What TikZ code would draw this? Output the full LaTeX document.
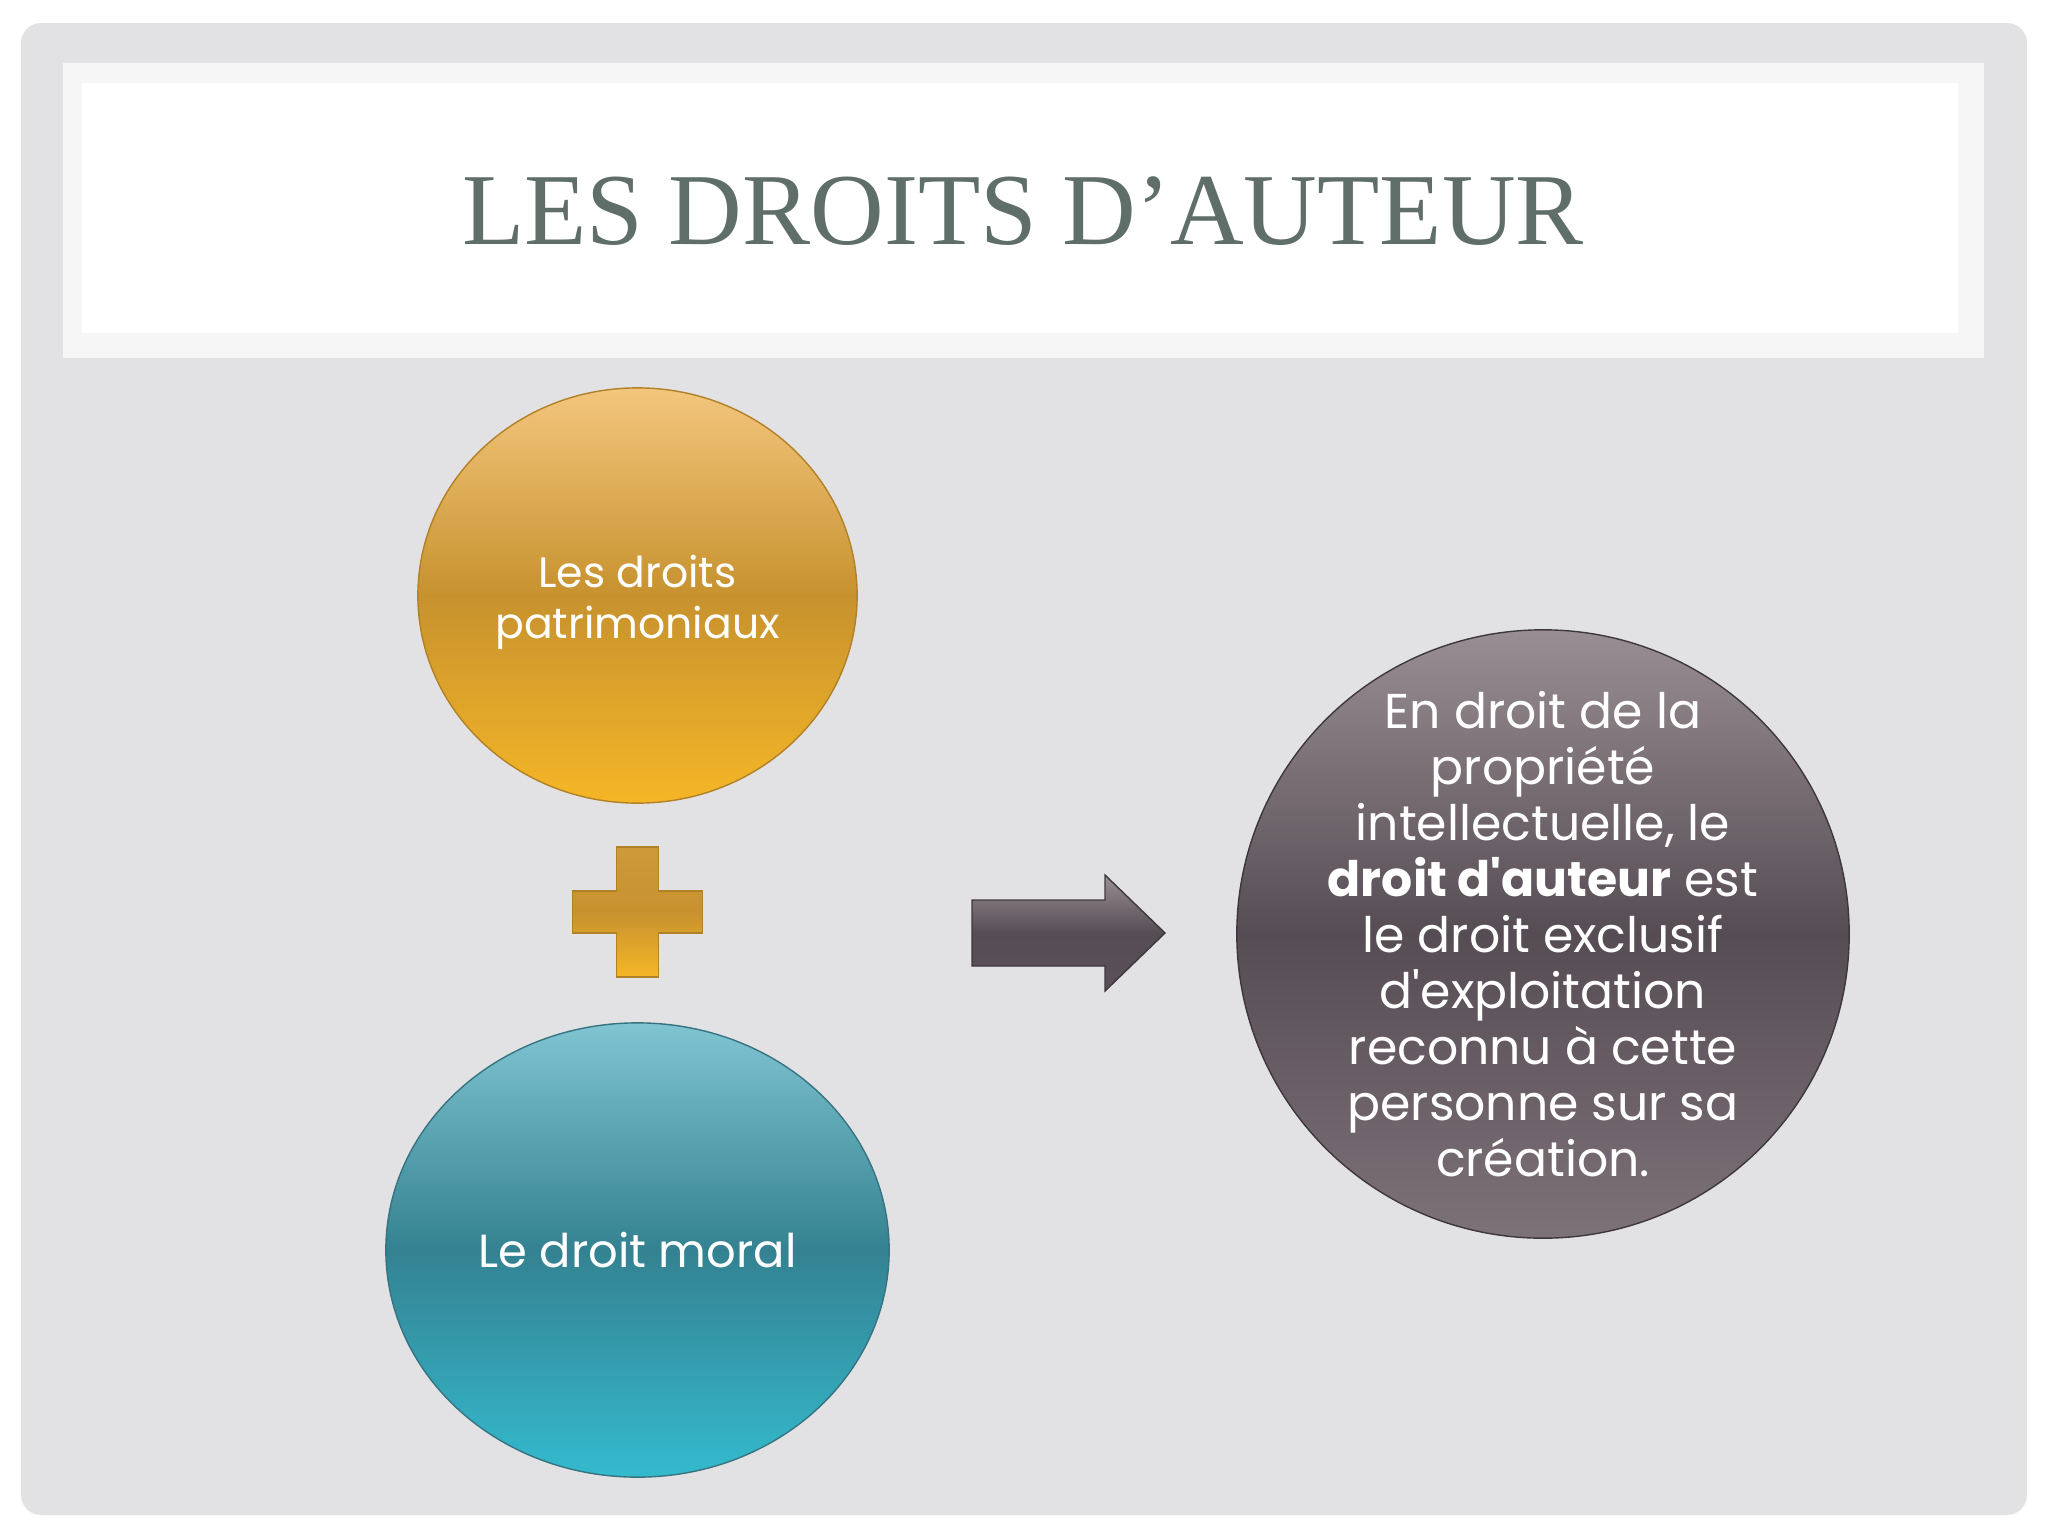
\documentclass[tikz,border=0pt]{standalone}
\usepackage{fontspec}
\usetikzlibrary{shapes.geometric}
\newfontfamily\titlefont{Liberation Serif}
\newfontfamily\bodyfont{Poppins}
\definecolor{slidegray}{RGB}{226,226,228}
\definecolor{bandgray}{RGB}{246,246,246}
\definecolor{titlegreen}{RGB}{95,110,105}
\definecolor{goldtop}{RGB}{243,198,125}
\definecolor{goldmid}{RGB}{199,146,46}
\definecolor{goldbot}{RGB}{245,182,38}
\definecolor{goldline}{RGB}{178,128,38}
\definecolor{tealtop}{RGB}{128,196,210}
\definecolor{tealmid}{RGB}{52,130,145}
\definecolor{tealbot}{RGB}{52,186,206}
\definecolor{tealline}{RGB}{55,115,128}
\definecolor{plumtop}{RGB}{152,142,147}
\definecolor{plummid}{RGB}{86,76,83}
\definecolor{plumbot}{RGB}{125,114,120}
\definecolor{plumline}{RGB}{62,56,60}
\begin{document}
\begin{tikzpicture}[x=0.01cm, y=-0.01cm,
goldnode/.style={ellipse, inner sep=0pt, draw=goldline, thin, top color=goldtop, bottom color=goldbot, middle color=goldmid},
tealnode/.style={ellipse, inner sep=0pt, draw=tealline, thin, top color=tealtop, bottom color=tealbot, middle color=tealmid},
plumnode/.style={ellipse, inner sep=0pt, draw=plumline, thin, top color=plumtop, bottom color=plumbot, middle color=plummid},
goldshape/.style={draw=goldline, thin, top color=goldmid!85!goldtop, bottom color=goldbot, middle color=goldmid},
plumshape/.style={draw=plumline, thin, top color=plumtop, bottom color=plummid!90!plumbot, middle color=plummid},
bodytext/.style={text=white, align=center, inner sep=0pt, font=\bodyfont},
]
\useasboundingbox (0,0) rectangle (2048,1536);
%background
\fill[white] (0,0) rectangle (2048,1536);
\fill[slidegray, rounded corners=0.2cm] (21,23) rectangle (2027,1515);
\fill[bandgray] (63,63) rectangle (1984,358);
\fill[white] (82,83) rectangle (1958,333);
\node[text=titlegreen, font=\titlefont\fontsize{29}{34}\selectfont, anchor=base] (title) at (1023,244) {LES DROITS D’AUTEUR};
%nodes
\node[goldnode, minimum width=4.39cm, minimum height=4.15cm] (patri) at (637.5,595.5) {};
\node[tealnode, minimum width=5.03cm, minimum height=4.54cm] (moral) at (637.5,1250) {};
\node[plumnode, minimum width=6.12cm, minimum height=6.08cm] (auteur) at (1543,934) {};
\node[bodytext, font=\bodyfont\fontsize{12.1}{14.5}\selectfont, yshift=-2pt] (patritxt) at (patri) {Les droits\\patrimoniaux};
\node[bodytext, font=\bodyfont\fontsize{13.2}{16}\selectfont] (moraltxt) at (moral) {Le droit moral};
\node[bodytext, font=\bodyfont\fontsize{13.9}{15.9}\selectfont] (auteurtxt) at (auteur) {En droit de la\\propriété\\intellectuelle, le\\{\bfseries droit d'auteur} est\\le droit exclusif\\d'exploitation\\reconnu à cette\\personne sur sa\\création.};
%plus and arrow
\coordinate (plus) at (637.5,912);
\draw[goldshape, shift={(plus)}] (-21,-65) -- (21,-65) -- (21,-21) -- (65,-21) -- (65,21) -- (21,21) -- (21,65) -- (-21,65) -- (-21,21) -- (-65,21) -- (-65,-21) -- (-21,-21) -- cycle;
\coordinate (tip) at (1165,933);
\draw[plumshape, shift={(tip)}] (-193,-33) -- (-60,-33) -- (-60,-58) -- (0,0) -- (-60,58) -- (-60,33) -- (-193,33) -- cycle;
\end{tikzpicture}
\end{document}
